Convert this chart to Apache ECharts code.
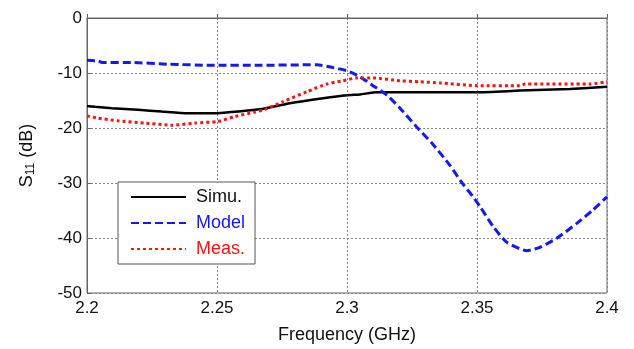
<!DOCTYPE html>
<html><head><meta charset="utf-8">
<script src="https://cdn.jsdelivr.net/npm/echarts@6/dist/echarts.min.js"></script>
<style>html,body{margin:0;padding:0;background:#fff}#c{width:634px;height:349px}</style>
</head><body><div id="c"></div>
<script>
var xTicks = [2.2, 2.25, 2.3, 2.35, 2.4];
var yTicks = [-50, -40, -30, -20, -10, 0];

var simuFreq = [2.2, 2.2031, 2.2096, 2.2196, 2.2288, 2.2388, 2.2504, 2.2581, 2.2665, 2.2781, 2.2908, 2.3, 2.305, 2.3115, 2.3358, 2.35, 2.3665, 2.3858, 2.4];
var simuVal  = [-16.0, -16.15, -16.4, -16.7, -17.0, -17.3, -17.3, -17.0, -16.6, -15.5, -14.6, -14.05, -13.9, -13.5, -13.5, -13.5, -13.2, -12.9, -12.5];

var modelFreq = [2.2, 2.2042, 2.2058, 2.2173, 2.2312, 2.2492, 2.2646, 2.2885, 2.2946, 2.3, 2.305, 2.31, 2.3154, 2.3204, 2.3268, 2.3331, 2.3396, 2.3441, 2.3485, 2.3512, 2.3562, 2.3615, 2.3692, 2.3742, 2.3808, 2.3885, 2.3946, 2.4];
var modelVal  = [-7.7, -7.8, -8.1, -8.1, -8.4, -8.6, -8.6, -8.5, -9.0, -9.6, -10.7, -12.3, -14.05, -16.4, -19.8, -23.0, -26.8, -29.9, -32.5, -34.3, -37.9, -40.8, -42.3, -41.7, -40.0, -37.3, -34.9, -32.5];

var measFreq = [2.2, 2.2042, 2.2119, 2.2223, 2.2327, 2.2415, 2.2504, 2.2569, 2.2646, 2.2685, 2.2754, 2.2846, 2.2923, 2.2985, 2.3038, 2.31, 2.3204, 2.3281, 2.3358, 2.35, 2.3665, 2.3685, 2.3935, 2.4];
var measVal  = [-17.8, -18.2, -18.7, -19.1, -19.5, -19.1, -18.8, -17.9, -17.1, -16.6, -15.2, -13.4, -12.0, -11.4, -10.9, -10.9, -11.4, -11.6, -11.8, -12.3, -12.3, -12.0, -12.0, -11.6];

function pairs(xs, ys){ return xs.map(function(x,i){ return [x, ys[i]]; }); }

var chart = echarts.init(document.getElementById('c'));
var font = 'Liberation Sans, Arial, sans-serif';
chart.setOption({
  animation: false,
  backgroundColor: '#fff',
  grid: { left: 87, right: 27, top: 18, bottom: 51, show: true, borderColor: '#666', borderWidth: 1, backgroundColor: 'transparent' },
  xAxis: {
    type: 'value', min: xTicks[0], max: xTicks[xTicks.length-1], interval: 0.05,
    name: 'Frequency (GHz)', nameLocation: 'middle', nameGap: 33,
    nameTextStyle: { fontFamily: font, fontSize: 18, color: '#111' },
    axisLine: { show: true, lineStyle: { color: '#666', width: 1 } },
    axisTick: { show: true, inside: true, length: 4, lineStyle: { color: '#666' } },
    axisLabel: { fontFamily: font, fontSize: 17, color: '#111', margin: 7 },
    splitLine: { show: true, lineStyle: { color: '#888', type: [2, 2], width: 1 } }
  },
  yAxis: {
    type: 'value', min: yTicks[0], max: yTicks[yTicks.length-1], interval: 10,
    name: 'S{sub|11} (dB)', nameLocation: 'middle', nameGap: 50,
    nameTextStyle: { fontFamily: font, fontSize: 18, color: '#111',
      rich: { sub: { fontFamily: font, fontSize: 12, color: '#111', verticalAlign: 'bottom', padding: [8, 0, 0, 0] } } },
    axisLine: { show: true, lineStyle: { color: '#666', width: 1 } },
    axisTick: { show: true, inside: true, length: 4, lineStyle: { color: '#666' } },
    axisLabel: { fontFamily: font, fontSize: 17, color: '#111', margin: 5 },
    splitLine: { show: true, lineStyle: { color: '#888', type: [2, 2], width: 1 } }
  },
  legend: {
    orient: 'vertical', left: 118, top: 182,
    backgroundColor: '#fff', borderColor: '#555', borderWidth: 1,
    padding: [6, 10, 6, 12], itemGap: 8, itemWidth: 55, itemHeight: 18,
    itemStyle: { opacity: 0, borderWidth: 0 },
    textStyle: { fontFamily: font, fontSize: 18, padding: [0, 0, 0, 5] },
    data: [
      { name: 'Simu.', textStyle: { color: '#111' } },
      { name: 'Model', textStyle: { color: '#1515ff' } },
      { name: 'Meas.', textStyle: { color: '#ff1010' } }
    ]
  },
  series: [
    { name: 'Simu.', type: 'line', data: pairs(simuFreq, simuVal), showSymbol: false, symbol: 'none', smooth: 0.2,
      lineStyle: { color: '#000', width: 2.5 }, itemStyle: { color: '#000' } },
    { name: 'Model', type: 'line', data: pairs(modelFreq, modelVal), showSymbol: false, symbol: 'none', smooth: 0.2,
      lineStyle: { color: '#1515ff', width: 3, type: [8, 4] }, itemStyle: { color: '#1515ff' } },
    { name: 'Meas.', type: 'line', data: pairs(measFreq, measVal), showSymbol: false, symbol: 'none', smooth: 0.2,
      lineStyle: { color: '#ff1010', width: 3, type: [3, 3] }, itemStyle: { color: '#ff1010' } }
  ]
});
</script></body></html>
